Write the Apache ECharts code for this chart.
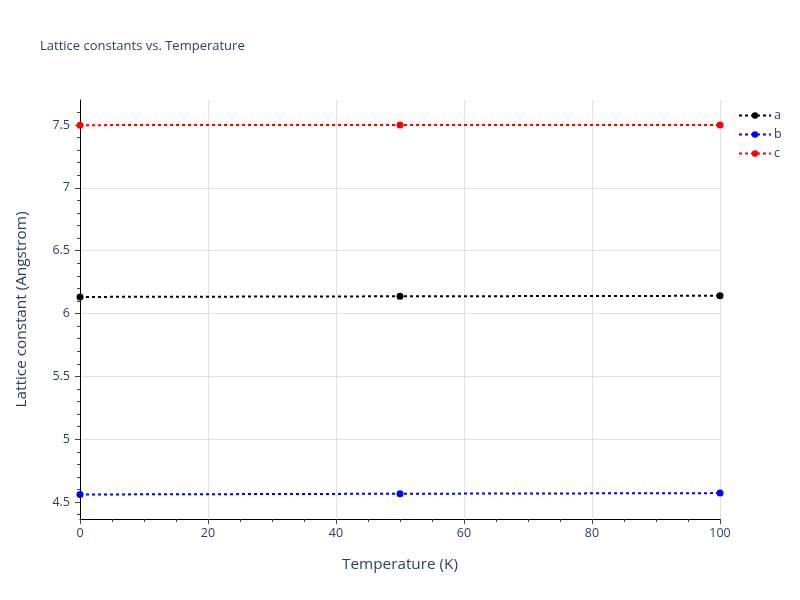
<!DOCTYPE html>
<html>
<head>
<meta charset="utf-8">
<script src="https://cdn.jsdelivr.net/npm/echarts@6/dist/echarts.min.js"></script>
<style>html,body{margin:0;padding:0;background:#fff}#c{width:800px;height:600px}</style>
</head>
<body>
<div id="c"></div>
<script>
const temperatures = [0, 50, 100];
const seriesNames = ['a', 'b', 'c'];
const aValues = [6.132, 6.137, 6.141];
const bValues = [4.560, 4.566, 4.571];
const cValues = [7.499, 7.500, 7.501];
const yTickValues = [4.5, 5, 5.5, 6, 6.5, 7, 7.5];
const xTickValues = [0, 20, 40, 60, 80, 100];

const colors = ['#000000', '#0000ff', '#ff0000'];
const allValues = [aValues, bValues, cValues];
const txt = '#2a3f5f';
const font = '"Open Sans", Verdana, Arial, sans-serif';

const chart = echarts.init(document.getElementById('c'), null, {renderer: 'canvas'});
chart.setOption({
  animation: false,
  backgroundColor: '#fff',
  title: {
    text: 'Lattice constants vs. Temperature',
    left: 35, top: 35,
    textStyle: {fontFamily: font, fontSize: 13, fontWeight: 'normal', color: txt}
  },
  legend: {
    orient: 'vertical',
    left: 733, top: 104,
    itemWidth: 32, itemHeight: 8, itemGap: 6,
    textStyle: {fontFamily: font, fontSize: 12.5, color: txt, padding: [0,0,0,-2]},
    data: seriesNames
  },
  grid: {left: 80, right: 80, top: 100, bottom: 81, containLabel: false},
  xAxis: {
    type: 'value',
    min: 0, max: 100, interval: 20,
    name: 'Temperature (K)',
    nameLocation: 'middle', nameGap: 38,
    nameTextStyle: {fontFamily: font, fontSize: 15.3, color: txt},
    axisLine: {show: true, onZero: false, lineStyle: {color: '#000', width: 1}},
    axisTick: {show: true, length: 5, lineStyle: {color: '#444'}},
    minorTick: {show: true, splitNumber: 4, length: 3, lineStyle: {color: '#444'}},
    axisLabel: {fontFamily: font, fontSize: 12.5, color: txt, margin: 8,
      customValues: xTickValues},
    splitLine: {show: true, lineStyle: {color: '#e2e2e2', width: 1}}
  },
  yAxis: {
    type: 'value',
    min: 4.365, max: 7.699,
    splitNumber: 7,
    name: 'Lattice constant (Angstrom)',
    nameLocation: 'middle', nameGap: 51,
    nameTextStyle: {fontFamily: font, fontSize: 15.3, color: txt},
    axisLine: {show: true, onZero: false, lineStyle: {color: '#000', width: 1}},
    axisTick: {show: true, length: 5, lineStyle: {color: '#444'}, customValues: yTickValues},
    minorTick: {show: true, splitNumber: 5, length: 3, lineStyle: {color: '#444'}},
    axisLabel: {fontFamily: font, fontSize: 12.5, color: txt, margin: 10,
      customValues: yTickValues, formatter: v => String(v)},
    splitLine: {show: true, showMinLine: false, showMaxLine: false,
      lineStyle: {color: '#e2e2e2', width: 1}}
  },
  series: seriesNames.map((n, i) => ({
    name: n,
    type: 'line',
    data: temperatures.map((t, k) => [t, allValues[i][k]]),
    symbol: 'circle',
    symbolSize: 7,
    showSymbol: true,
    clip: false,
    color: colors[i],
    itemStyle: {color: colors[i]},
    lineStyle: {color: colors[i], width: 2, type: [3, 3]}
  }))
});
</script>
</body>
</html>
